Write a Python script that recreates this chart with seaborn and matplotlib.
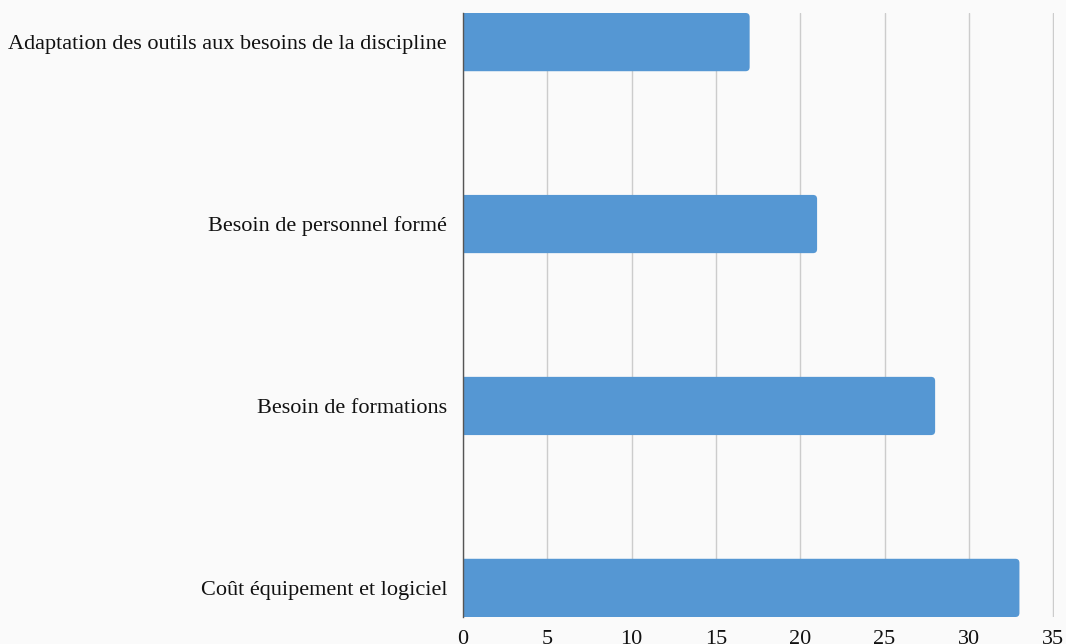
import numpy as np
import pandas as pd
import seaborn as sns
import matplotlib.pyplot as plt
from matplotlib.patches import FancyBboxPatch

categories = ['Adaptation des outils aux besoins de la discipline',
              'Besoin de personnel formé',
              'Besoin de formations',
              'Coût équipement et logiciel']
values = [17, 21, 28, 33]
xticks = [0, 5, 10, 15, 20, 25, 30, 35]

df = pd.DataFrame({'categorie': categories, 'valeur': values})

sns.set_style('white')
plt.rcParams['font.family'] = ['Liberation Serif', 'DejaVu Serif']

bg = '#fafafa'
bar_color = '#5597d3'
fig = plt.figure(figsize=(10.66, 6.44), dpi=100, facecolor=bg)
ax = fig.add_axes([463 / 1066, 1 - 617 / 644, 591 / 1066, 604 / 644])
ax.set_facecolor(bg)

sns.barplot(data=df, x='valeur', y='categorie', color=bar_color,
            saturation=1, width=0.32, ax=ax, zorder=3)

ax.set_xlim(0, 35.05)
ax.set_ylim(3.16, -0.16)

# rounded right ends, redrawn from the seaborn bars
for p in list(ax.patches):
    x0, y0, w, h = p.get_x(), p.get_y(), p.get_width(), p.get_height()
    p.set_visible(False)
    rb = FancyBboxPatch((x0 - 1, y0), w + 1, h,
                        boxstyle='round,pad=0,rounding_size=0.24',
                        mutation_aspect=0.093, facecolor=bar_color,
                        edgecolor='none', zorder=3)
    ax.add_patch(rb)

ax.set_xticks(xticks)
ax.set_xlabel('')
ax.set_ylabel('')
ax.grid(axis='x', color='#cccccc', linewidth=1, zorder=0)
for s in ['top', 'right', 'bottom']:
    ax.spines[s].set_visible(False)
ax.spines['left'].set_color('#555555')
ax.spines['left'].set_linewidth(1)
ax.spines['left'].set_zorder(4)
ax.tick_params(axis='both', length=0, labelsize=16, colors='#111111')
ax.tick_params(axis='y', pad=11.5)
ax.tick_params(axis='x', pad=9.5)

fig.savefig('out.png', dpi=100, facecolor=bg)
